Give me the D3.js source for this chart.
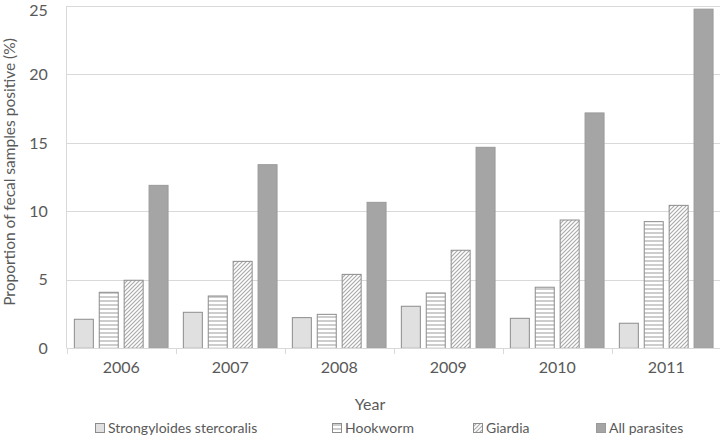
<!DOCTYPE html>
<html>
<head>
<meta charset="utf-8">
<script src="https://cdn.jsdelivr.net/npm/d3@7"></script>
<style>
  html, body { margin: 0; padding: 0; background: #fff; }
  svg { display: block; font-family: Lato, "Open Sans", sans-serif; }
</style>
</head>
<body>
<svg id="chart" width="720" height="440"></svg>
<script>
const years = ["2006", "2007", "2008", "2009", "2010", "2011"];
const seriesNames = ["Strongyloides stercoralis", "Hookworm", "Giardia", "All parasites"];
const strongyloides = [2.12, 2.63, 2.24, 3.07, 2.19, 1.83];
const hookworm = [4.09, 3.82, 2.48, 4.04, 4.46, 9.25];
const giardia = [4.97, 6.35, 5.40, 7.16, 9.37, 10.44];
const allParasites = [11.9, 13.41, 10.66, 14.68, 17.19, 24.77];
const yTicks = [0, 5, 10, 15, 20, 25];
const yTitle = "Proportion of fecal samples positive (%)";
const xTitle = "Year";

const seriesValues = [strongyloides, hookworm, giardia, allParasites];
const fills = ["#e0e0e0", "url(#hstripe)", "url(#dhatch)", "#a5a5a5"];
const strokes = ["#8c8c8c", "#8c8c8c", "#8c8c8c", "#9a9a9a"];
const legendX = [95, 332, 473, 596];

const svg = d3.select("#chart");
const textColor = "#595959";
const gridColor = "#d9d9d9";

const defs = svg.append("defs");
const hs = defs.append("pattern").attr("id", "hstripe").attr("patternUnits", "userSpaceOnUse")
  .attr("width", 8).attr("height", 4);
hs.append("rect").attr("width", 8).attr("height", 4).attr("fill", "#ffffff");
hs.append("rect").attr("y", 0).attr("width", 8).attr("height", 2).attr("fill", "#cdcdcd");
const dh = defs.append("pattern").attr("id", "dhatch").attr("patternUnits", "userSpaceOnUse")
  .attr("width", 4).attr("height", 4);
dh.append("rect").attr("width", 4).attr("height", 4).attr("fill", "#ffffff");
dh.append("path").attr("d", "M-1,1 l2,-2 M0,4 l4,-4 M3,5 l2,-2")
  .attr("stroke", "#ababab").attr("stroke-width", 1.2);

const x0 = d3.scaleBand().domain(years).range([66.7, 720.7]).paddingInner(0).paddingOuter(0);
const x1 = d3.scaleBand().domain(d3.range(4)).range([0, x0.bandwidth()])
  .paddingInner(0.197).paddingOuter(0.287);
const y = d3.scaleLinear().domain([0, 25]).range([348.3, 6]);

// gridlines
svg.append("g").selectAll("line").data(yTicks.filter(d => d > 0)).join("line")
  .attr("x1", 66.7).attr("x2", 720).attr("y1", d => Math.round(y(d)) + 0.5).attr("y2", d => Math.round(y(d)) + 0.5)
  .attr("stroke", gridColor).attr("stroke-width", 1);

// y axis line
svg.append("line").attr("x1", 66.5).attr("x2", 66.5).attr("y1", y(25)).attr("y2", y(0))
  .attr("stroke", gridColor);

// y tick labels
const yAxis = d3.axisLeft(y).tickValues(yTicks).tickSize(0).tickPadding(19);
const gy = svg.append("g").attr("transform", "translate(66.7,0)").call(yAxis);
gy.select(".domain").remove();
gy.selectAll("text").attr("fill", textColor).style("font-size", "16px").style("font-family", "Lato");
gy.selectAll(".tick").filter(d => d === 25).select("text").attr("dy", "0.58em");

// bars
const gBars = svg.append("g");
years.forEach((yr, i) => {
  seriesValues.forEach((vals, s) => {
    gBars.append("rect")
      .attr("x", x0(yr) + x1(s) + 0.5)
      .attr("y", y(vals[i]))
      .attr("width", x1.bandwidth() - 1)
      .attr("height", y(0) - y(vals[i]))
      .attr("fill", fills[s])
      .attr("stroke", strokes[s])
      .attr("stroke-width", 1);
  });
});

// x axis
const xAxisScale = d3.scaleLinear().domain([0, 6]).range([66.7, 720.7]);
svg.append("line").attr("x1", 66.7).attr("x2", 720).attr("y1", 348.5).attr("y2", 348.5).attr("stroke", gridColor);
const gx = svg.append("g").attr("transform", "translate(0,348.5)")
  .call(d3.axisBottom(x0).tickSize(0).tickPadding(13));
gx.select(".domain").remove();
gx.selectAll("text").attr("fill", textColor).style("font-size", "16px").style("font-family", "Lato");
svg.append("g").selectAll("line").data(d3.range(7)).join("line")
  .attr("x1", d => Math.round(xAxisScale(d)) + 0.5).attr("x2", d => Math.round(xAxisScale(d)) + 0.5)
  .attr("y1", 348.5).attr("y2", 354).attr("stroke", gridColor);

// axis titles
svg.append("text").attr("x", 370).attr("y", 410).attr("text-anchor", "middle")
  .attr("fill", textColor).style("font-size", "16px").text(xTitle);
svg.append("text").attr("transform", "translate(15,172) rotate(-90)").attr("text-anchor", "middle")
  .attr("fill", textColor).style("font-size", "15.5px").text(yTitle);

// legend
const lg = svg.append("g");
seriesNames.forEach((name, s) => {
  lg.append("rect").attr("x", legendX[s] + 0.5).attr("y", 423.5).attr("width", 9).attr("height", 9)
    .attr("fill", fills[s]).attr("stroke", strokes[s]);
  lg.append("text").attr("x", legendX[s] + 13).attr("y", 433).attr("fill", textColor)
    .style("font-size", "14px").text(name);
});
</script>
</body>
</html>
